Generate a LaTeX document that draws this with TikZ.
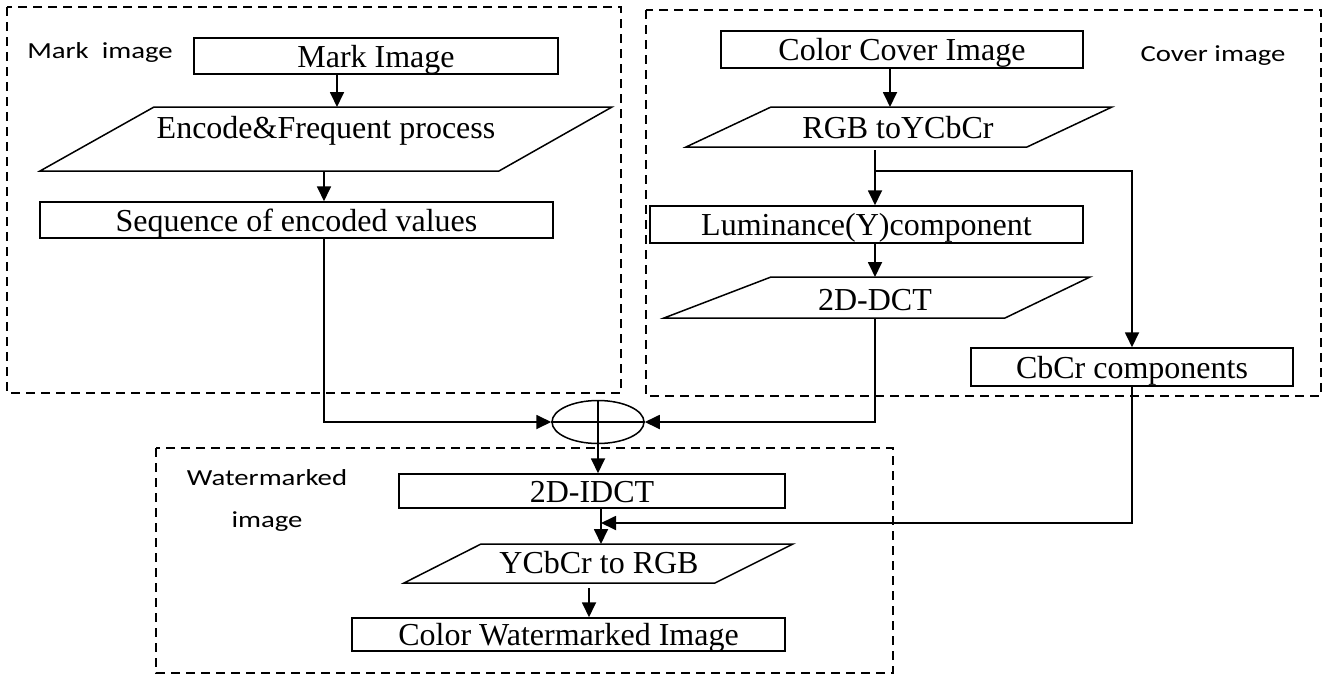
\documentclass[tikz,border=0pt]{standalone}
\usepackage{graphicx}
\usepackage{fontspec}
\setmainfont{Liberation Serif}
\newfontfamily\calibfont{Carlito}
\usetikzlibrary{arrows.meta,shapes.geometric}
\begin{document}
\begin{tikzpicture}[x=1pt,y=-1pt,
 box/.style={draw,line width=1.5pt,rectangle,inner sep=0pt,text height=22pt,text depth=0pt,font=\fontsize{32}{38}\selectfont},
 ptext/.style={anchor=base,inner sep=0pt,font=\fontsize{32}{38}\selectfont},
 para/.style={draw,line width=1.5pt},
 region/.style={draw,line width=2.3pt,dash pattern=on 9pt off 6pt},
 lbl/.style={anchor=base,inner sep=0pt,font=\calibfont\fontsize{23}{30}\selectfont},
 arr/.style={line width=1.8pt,-{Triangle[length=15pt,width=14pt]}},
 conn/.style={line width=1.5pt}
]
\useasboundingbox (0,0) rectangle (1325,675);

% dashed regions
\draw[region] (7,7) rectangle (621,393);
\draw[region] (646,10) rectangle (1321,396);
\draw[region] (156,448) rectangle (893,673);

% labels
\node[lbl] (lmark) at (100,58) {\scalebox{1.25}[1]{Mark\ \ image}};
\node[lbl] (lcover) at (1213,61) {\scalebox{1.25}[1]{Cover image}};
\node[lbl] (lwm1) at (267,485) {\scalebox{1.25}[1]{Watermarked}};
\node[lbl] (lwm2) at (267,527) {\scalebox{1.25}[1]{image}};

% left column
\node[box,minimum width=364pt,minimum height=36pt] (mark) at (376,56) {Mark Image};
\draw[para] (154,107) -- (612,107) -- (499,171) -- (40,171) -- cycle;
\coordinate (enc-n) at (337,107);
\coordinate (enc-s) at (324,171);
\node[ptext] (enc) at (326,138) {Encode\&Frequent process};
\node[box,minimum width=513pt,minimum height=36pt] (seq) at (296.5,220) {Sequence of encoded values};
\draw[arr] (mark.south -| enc-n) -- (enc-n);
\draw[arr] (enc-s) -- (enc-s |- seq.north);

% sum node
\node[draw,ellipse,line width=1.5pt,minimum width=92pt,minimum height=43pt,inner sep=0pt] (sum) at (598,422) {};
\draw[conn] (sum.north) -- (sum.south);
\draw[conn] (sum.west) -- (sum.east);
\draw[arr] (seq.south -| enc-s) |- (sum.west);

% right column
\node[box,minimum width=362pt,minimum height=37pt] (cci) at (902,49.5) {Color Cover Image};
\draw[para] (771,107) -- (1112,107) -- (1027,147) -- (686,147) -- cycle;
\coordinate (rgb-n) at (890,107);
\coordinate (rgb-s) at (875,150);
\node[ptext] (rgb) at (898,138) {RGB toYCbCr};
\draw[arr] (cci.south -| rgb-n) -- (rgb-n);
\node[box,minimum width=433pt,minimum height=37pt] (lum) at (866.5,224.5) {Luminance(Y)component};
\coordinate (split) at (875,171);
\draw[arr] (rgb-s) -- (rgb-s |- lum.north);
\node[box,minimum width=322pt,minimum height=38pt] (cbcr) at (1132,367) {CbCr components};
\draw[arr] (split) -| (cbcr.north);
\draw[para] (771,277) -- (1090,277) -- (1005,318) -- (664,318) -- cycle;
\coordinate (dct-n) at (875,277);
\coordinate (dct-s) at (875,318);
\node[ptext] (dct) at (875,310) {2D-DCT};
\draw[arr] (lum.south -| dct-n) -- (dct-n);
\draw[arr] (dct-s) |- (sum.east);

% bottom column
\node[box,minimum width=386pt,minimum height=34pt] (idct) at (592,491) {2D-IDCT};
\draw[arr] (sum.center) -- (sum.center |- idct.north);
\draw[para] (481,544) -- (793,544) -- (715,583) -- (404,583) -- cycle;
\coordinate (ycc-n) at (601,544);
\coordinate (ycc-s) at (589,588);
\node[ptext] (ycc) at (599,573) {YCbCr to RGB};
\draw[arr] (idct.south -| ycc-n) -- (ycc-n);
\coordinate (join) at (601,523);
\draw[arr] (cbcr.south) |- (join);
\node[box,minimum width=433pt,minimum height=33pt] (cwi) at (568.5,634.5) {Color Watermarked Image};
\draw[arr] (ycc-s) -- (ycc-s |- cwi.north);
\end{tikzpicture}
\end{document}
